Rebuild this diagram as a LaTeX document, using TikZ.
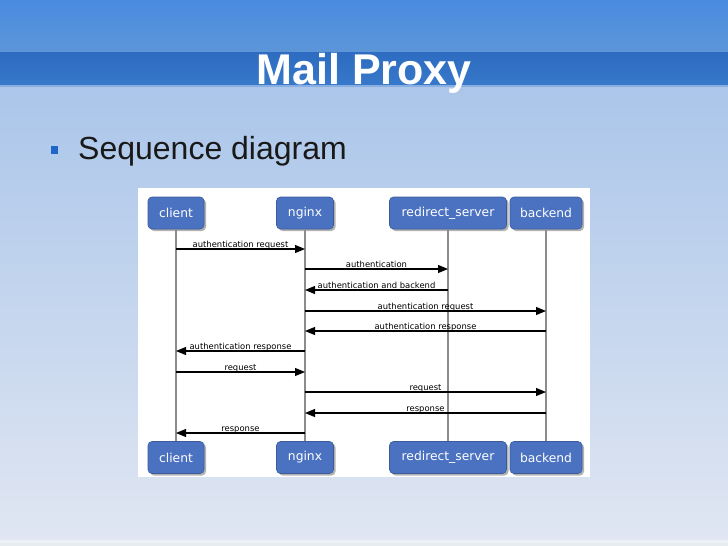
\documentclass[tikz,border=0pt]{standalone}
\usepackage{fontspec}
\setmainfont{Liberation Sans}
\newfontfamily\diagFont{DejaVu Sans}
\usetikzlibrary{positioning}
\usetikzlibrary{arrows.meta}
\usetikzlibrary{shadows}
\definecolor{skyTop}{HTML}{4A8BE0}
\definecolor{skyMid}{HTML}{5C96D8}
\definecolor{bandTop}{HTML}{2D6CC0}
\definecolor{bandBottom}{HTML}{3778CA}
\definecolor{paleTop}{HTML}{ABC6EA}
\definecolor{paleBottom}{HTML}{E0E6F2}
\definecolor{actorBlue}{HTML}{4B72C0}
\definecolor{bulletBlue}{HTML}{1F66C8}
\tikzset{
  actorNode/.style={%
    rounded corners=4pt, fill=actorBlue, draw=actorBlue!80!black, line width=0.6pt,
    text=white, minimum height=32pt, inner sep=0pt,
    font=\diagFont\fontsize{12.3}{14}\selectfont,
    drop shadow={shadow xshift=2pt, shadow yshift=-2pt, fill=black!60, opacity=0.5},
  },
  lifeLine/.style={draw=black!45, line width=1.3pt},
  msgArrow/.style={-{Triangle[length=10pt,width=8pt]}, line width=1.1pt},
  msgLabel/.style={font=\diagFont\fontsize{8.4}{10}\selectfont, inner sep=0pt, anchor=base},
}

\begin{document}
\begin{tikzpicture}[x=1pt,y=-1pt]
  \useasboundingbox (0,0) rectangle (728,546);
  % slide background
  \shade[top color=skyTop, bottom color=skyMid] (0,0) rectangle (728,52);
  \shade[top color=bandTop, bottom color=bandBottom] (0,52) rectangle (728,85);
  \fill[paleTop!70!bandBottom] (0,85) rectangle (728,87);
  \shade[top color=paleTop, bottom color=paleBottom] (0,87) rectangle (728,540);
  \fill[paleBottom!60!white] (0,540) rectangle (728,543);
  \fill[paleTop!80!black!20] (0,543) rectangle (728,546);
  \node[font=\bfseries\fontsize{43}{48}\selectfont, text=white, anchor=base, inner sep=0pt]
    (title) at (364,84) {Mail Proxy};
  \fill[bulletBlue] (51,146) rectangle (58,154);
  \node[font=\fontsize{32}{36}\selectfont, text=black!90, anchor=base west, inner sep=0pt]
    (bullet) at (78,159) {Sequence diagram};
  % diagram panel
  \fill[white] (138,188) rectangle (590,477);
  \foreach \name/\x/\w/\txt in {client/176/56/client, nginx/305/57/nginx,
    redirect/448/117/redirect\_server, backend/546/72/backend}
  {
    \node[actorNode, minimum width=\w pt] (\name Top) at (\x,213) {\txt};
    \node[actorNode, minimum width=\w pt] (\name Bottom) at (\x,457.5) {\txt};
  }
  \foreach \name in {client,nginx,redirect,backend}
  {
    \draw[lifeLine] (\name Top.south) -- (\name Bottom.north);
  }
  % messages
  \foreach \from/\to/\y/\txt in {%
    client/nginx/249/authentication request,
    nginx/redirect/269/authentication,
    redirect/nginx/290/authentication and backend,
    nginx/backend/311/authentication request,
    backend/nginx/331/authentication response,
    nginx/client/351/authentication response,
    client/nginx/372/request,
    nginx/backend/392/request,
    backend/nginx/413/response,
    nginx/client/433/response}
  {
    \draw[msgArrow] (\from Top |- 0,\y) -- (\to Top |- 0,\y)
      node[msgLabel, midway, yshift=2pt] {\txt};
  }
\end{tikzpicture}
\end{document}
